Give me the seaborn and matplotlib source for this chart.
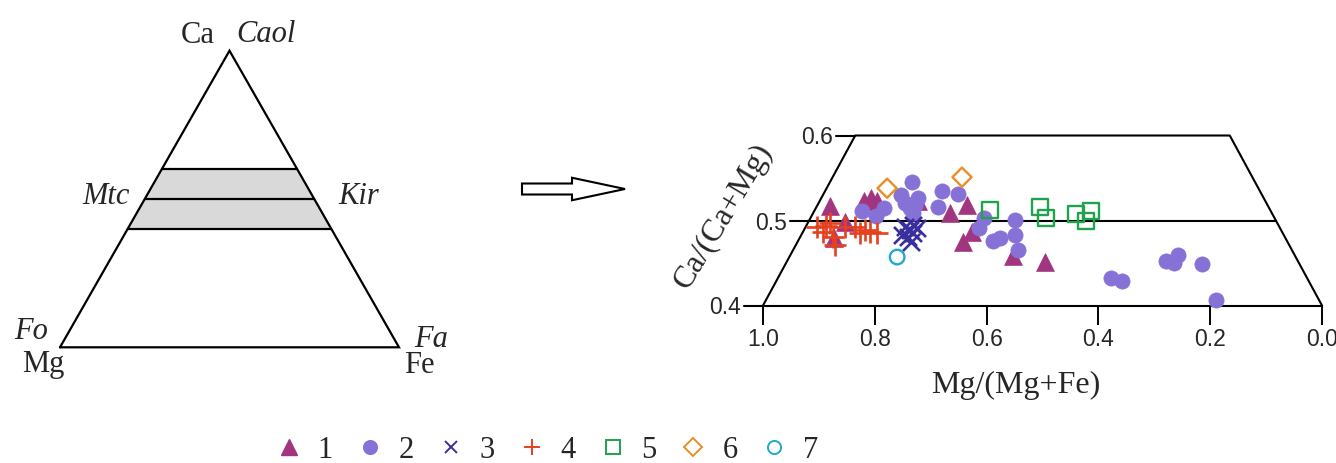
import matplotlib
matplotlib.use("Agg")
import matplotlib.pyplot as plt
from matplotlib.lines import Line2D
from matplotlib.patches import FancyArrow, Polygon
import pandas as pd
import seaborn as sns

# ---- data: Mg/(Mg+Fe) and Ca/(Ca+Mg) of each olivine group ----
g1_mg = [0.880, 0.853, 0.873, 0.819, 0.807, 0.796, 0.723, 0.665, 0.635, 0.626, 0.642, 0.553, 0.496]
g1_ca = [0.517, 0.498, 0.479, 0.523, 0.526, 0.523, 0.523, 0.509, 0.518, 0.486, 0.475, 0.458, 0.451]

g2_mg = [0.823, 0.798, 0.784, 0.753, 0.733, 0.746, 0.737, 0.728, 0.723, 0.732, 0.680, 0.687,
         0.651, 0.605, 0.614, 0.589, 0.576, 0.549, 0.549, 0.544, 0.377, 0.358, 0.279, 0.265,
         0.258, 0.215, 0.190]
g2_ca = [0.511, 0.505, 0.515, 0.530, 0.545, 0.521, 0.515, 0.518, 0.526, 0.509, 0.535, 0.516,
         0.531, 0.503, 0.491, 0.476, 0.479, 0.501, 0.483, 0.465, 0.432, 0.429, 0.452, 0.450,
         0.459, 0.449, 0.406]

g3_mg = [0.746, 0.737, 0.732, 0.751, 0.741, 0.732, 0.735, 0.724]
g3_ca = [0.492, 0.489, 0.495, 0.483, 0.481, 0.485, 0.475, 0.491]

g4_mg = [0.903, 0.893, 0.880, 0.875, 0.871, 0.853, 0.835, 0.826, 0.818, 0.809, 0.796, 0.887]
g4_ca = [0.492, 0.486, 0.497, 0.481, 0.471, 0.492, 0.492, 0.485, 0.489, 0.486, 0.485, 0.494]

g5_mg = [0.594, 0.504, 0.494, 0.440, 0.413, 0.422]
g5_ca = [0.512, 0.516, 0.503, 0.508, 0.511, 0.499]

g6_mg = [0.778, 0.644]
g6_ca = [0.538, 0.551]

g7_mg = [0.760]
g7_ca = [0.457]

groups = ["1", "2", "3", "4", "5", "6", "7"]
mg_values = [g1_mg, g2_mg, g3_mg, g4_mg, g5_mg, g6_mg, g7_mg]
ca_values = [g1_ca, g2_ca, g3_ca, g4_ca, g5_ca, g6_ca, g7_ca]

x_ticks = [1.0, 0.8, 0.6, 0.4, 0.2, 0.0]
y_ticks = [0.4, 0.5, 0.6]
band_levels = [0.4, 0.5, 0.6]        # Ca fraction of the shaded monticellite-kirschsteinite band
frame_top = (0.835, 0.165)            # Mg/(Mg+Fe) of the upper corners of the projected field

df = pd.concat(
    [pd.DataFrame({"group": g, "mg": m, "ca": c}) for g, m, c in zip(groups, mg_values, ca_values)],
    ignore_index=True,
)

# marker, colour, size (pt^2), hollow?
styles = {
    "1": dict(marker="^", color="#a2357f", s=165, hollow=False),
    "2": dict(marker="o", color="#8672d6", s=120, hollow=False),
    "3": dict(marker="x", color="#3a2f9e", s=150, hollow=False),
    "4": dict(marker="+", color="#e6401e", s=260, hollow=False),
    "5": dict(marker="s", color="#20a34c", s=130, hollow=True),
    "6": dict(marker="D", color="#e88e25", s=95, hollow=True),
    "7": dict(marker="o", color="#1fa9cf", s=110, hollow=True),
}

sns.set_style("white")
plt.rcParams["font.family"] = ["Liberation Serif", "DejaVu Serif"]
SANS = ["Liberation Sans", "DejaVu Sans"]
SERIF_SIZE = 22

W, H = 1336, 463
fig = plt.figure(figsize=(W / 100, H / 100), dpi=100)


def box(x0, y0, x1, y1):
    """Pixel box (top-left origin) to a figure-fraction rectangle."""
    return [x0 / W, 1 - y1 / H, (x1 - x0) / W, (y1 - y0) / H]


# full-figure layer for labels and the arrow (pixel coordinates)
canvas = fig.add_axes([0, 0, 1, 1])
canvas.set_xlim(0, W)
canvas.set_ylim(H, 0)
canvas.axis("off")

# ---- left: Ca-Mg-Fe ternary sketch ----
tri = fig.add_axes(box(60, 50.7, 399, 347.3))
tri.set_xlim(0, 1)
tri.set_ylim(0, 1)
tri.axis("off")

lo, mid, hi = band_levels
tri.add_patch(Polygon([(lo / 2, lo), (1 - lo / 2, lo), (1 - hi / 2, hi), (hi / 2, hi)],
                      closed=True, facecolor="#d9d9d9", edgecolor="none"))
tri.plot([0, 1, 0.5, 0], [0, 0, 1, 0], color="black", lw=1.6, clip_on=False,
         solid_joinstyle="miter")
for c in band_levels:
    tri.plot([c / 2, 1 - c / 2], [c, c], color="black", lw=1.6, clip_on=False)

lab = dict(fontsize=SERIF_SIZE, va="baseline")
canvas.text(198, 43, "Ca", ha="center", **lab)
canvas.text(236, 42, "Caol", ha="left", style="italic", **lab)
canvas.text(130, 204, "Mtc", ha="right", style="italic", **lab)
canvas.text(338, 204, "Kir", ha="left", style="italic", **lab)
canvas.text(14, 339, "Fo", ha="left", style="italic", **lab)
canvas.text(22, 372, "Mg", ha="left", **lab)
canvas.text(414, 347, "Fa", ha="left", style="italic", **lab)
canvas.text(404, 373, "Fe", ha="left", **lab)

# ---- arrow ----
canvas.add_patch(FancyArrow(522, 189, 103, 0, width=11, head_width=22.5, head_length=53,
                            length_includes_head=True, facecolor="white",
                            edgecolor="black", lw=1.5))

# ---- right: Ca/(Ca+Mg) vs Mg/(Mg+Fe) ----
ax = fig.add_axes(box(763, 135.5, 1322, 305.5))
ax.set_xlim(1.0, 0.0)
ax.set_ylim(0.4, 0.6)
ax.set_facecolor("none")
for side in ["top", "right", "left"]:
    ax.spines[side].set_visible(False)
ax.spines["bottom"].set_linewidth(1.5)
ax.spines["bottom"].set_color("black")
ax.set_yticks([])
ax.set_xticks(x_ticks)
ax.set_xticklabels([f"{t:.1f}" for t in x_ticks], fontfamily=SANS, fontsize=16.5)
ax.tick_params(axis="x", bottom=True, length=14, width=1.4, direction="out", pad=2,
               color="black")

y0, y1 = y_ticks[0], y_ticks[-1]
tl, tr = frame_top


def x_left(y):
    return 1.0 - (y - y0) / (y1 - y0) * (1.0 - tl)


def x_right(y):
    return 0.0 + (y - y0) / (y1 - y0) * tr


frame = dict(color="black", lw=1.5, clip_on=False)
ax.plot([1.0, tl, tr, 0.0], [y0, y1, y1, y0], **frame)
ax.plot([x_left(0.5), x_right(0.5)], [0.5, 0.5], **frame)
for y in y_ticks:
    xl = x_left(y)
    ax.plot([xl, xl + 0.034], [y, y], **frame)
    ax.text(xl + 0.04, y, f"{y:.1f}", ha="right", va="center_baseline",
            fontfamily=SANS, fontsize=16.5)

for g in groups:
    st = styles[g]
    sub = df[df["group"] == g]
    kw = dict(marker=st["marker"], s=st["s"], color=st["color"], legend=False, ax=ax,
              clip_on=False, zorder=3)
    if st["hollow"]:
        kw.update(facecolor="none", edgecolor=st["color"], linewidth=1.7)
    elif st["marker"] in ("x", "+"):
        kw.update(linewidth=1.9)
    else:
        kw.update(edgecolor=st["color"], linewidth=0.5)
    sns.scatterplot(data=sub, x="mg", y="ca", **kw)
ax.set_xlabel("")
ax.set_ylabel("")

canvas.text(1016, 393, "Mg/(Mg+Fe)", ha="center", va="baseline", fontsize=23)
canvas.text(724, 216, "Ca/(Ca+Mg)", ha="center", va="center", fontsize=23,
            rotation=59, rotation_mode="anchor")

# ---- legend ----
handles = []
for g in groups:
    st = styles[g]
    ms = st["s"] ** 0.5 * 0.9
    if st["hollow"]:
        h = Line2D([], [], ls="none", marker=st["marker"], ms=ms, mfc="none",
                   mec=st["color"], mew=1.4)
    elif st["marker"] in ("x", "+"):
        h = Line2D([], [], ls="none", marker=st["marker"], ms=ms * 0.8, color=st["color"],
                   mew=1.4)
    else:
        h = Line2D([], [], ls="none", marker=st["marker"], ms=ms, color=st["color"])
    handles.append(h)

fig.legend(handles, groups, loc="center", bbox_to_anchor=(546 / W, 1 - 450 / H),
           ncol=7, frameon=False, fontsize=SERIF_SIZE, handlelength=1.0, handletextpad=0.45,
           columnspacing=0.7, borderpad=0, borderaxespad=0)

fig.savefig("out.png", dpi=100, facecolor="white")
